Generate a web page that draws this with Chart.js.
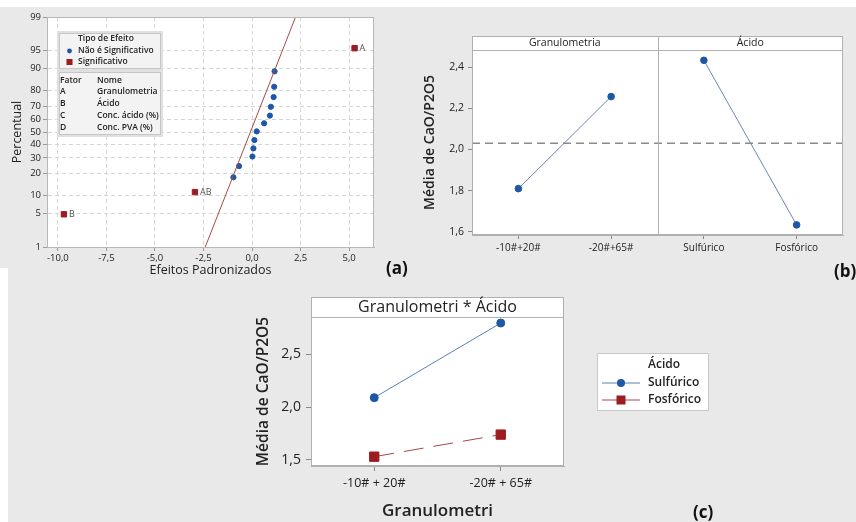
<!DOCTYPE html>
<html>
<head>
<meta charset="utf-8">
<script src="https://cdn.jsdelivr.net/npm/chart.js@4.4.1/dist/chart.umd.min.js"></script>
<style>
  html, body { margin: 0; padding: 0; }
  body { width: 856px; height: 522px; background: #e9e9e9; position: relative; overflow: hidden; font-family: 'Open Sans', sans-serif; }
  canvas { position: absolute; }
  .tag { position: absolute; font-weight: 700; font-size: 17px; color: #111; line-height: 22px; }
</style>
</head>
<body>
<div style="position:absolute;left:0;top:0;width:856px;height:7px;background:#fff"></div>
<div style="position:absolute;left:0;top:268px;width:8px;height:254px;background:#fff"></div>
<canvas id="chartA" width="385" height="285" style="left:0;top:0"></canvas>
<canvas id="chartB" width="466" height="285" style="left:390px;top:0"></canvas>
<canvas id="chartC" width="490" height="237" style="left:230px;top:285px"></canvas>
<div class="tag" style="left:386px;top:257px">(a)</div>
<div class="tag" style="left:834px;top:260px">(b)</div>
<div class="tag" style="left:693px;top:501px">(c)</div>
<script>
// (a) normal plot of standardized effects
const pctTicks = [1, 5, 10, 20, 30, 40, 50, 60, 70, 80, 90, 95, 99];
const effTicks = [-10, -7.5, -5, -2.5, 0, 2.5, 5];
const nsEffect = [-0.96, -0.67, 0.02, 0.07, 0.12, 0.24, 0.62, 0.92, 0.97, 1.11, 1.14, 1.16];
const nsPct = [18, 24.5, 31, 37, 43.5, 50.5, 57, 63, 69.5, 76, 82, 89];
const sigEffect = [-9.69, -2.94, 5.28];
const sigPct = [4.8, 11.2, 95.5];
const sigLabel = ['B', 'AB', 'A'];
const fitEffect = [-2.41, 2.24];
const fitPct = [1, 99];
const factorCodes = ['A', 'B', 'C', 'D'];
const factorNames = ['Granulometria', 'Ácido', 'Conc. ácido (%)', 'Conc. PVA (%)'];

// (b) main effects
const catB = ['-10#+20#', '-20#+65#', 'Sulfúrico', 'Fosfórico'];
const granMeans = [1.81, 2.257];
const acidMeans = [2.433, 1.634];
const grandMean = 2.03;
const yTicksB = [1.6, 1.8, 2.0, 2.2, 2.4];

// (c) interaction
const catC = ['-10# + 20#', '-20# + 65#'];
const sulfMeans = [2.089, 2.795];
const fosfMeans = [1.531, 1.74];
const yTicksC = [1.5, 2.0, 2.5];

const BLUE = '#1d57a6';
const RED = '#9c1c1f';
const FONT = "'Open Sans', sans-serif";
Chart.defaults.font.family = FONT;
Chart.defaults.animation = false;

const fmt = (v, d) => v.toFixed(d).replace('.', ',');

// inverse normal CDF (Acklam)
function probit(p) {
  const a = [-39.69683028665376, 220.9460984245205, -275.9285104469687, 138.3577518672690, -30.66479806614716, 2.506628277459239];
  const b = [-54.47609879822406, 161.5858368580409, -155.6989798598866, 66.80131188771972, -13.28068155288572];
  const c = [-0.007784894002430293, -0.3223964580411365, -2.400758277161838, -2.549732539343734, 4.374664141464968, 2.938163982698783];
  const d = [0.007784695709041462, 0.3224671290700398, 2.445134137142996, 3.754408661907416];
  const pl = 0.02425;
  let q, r;
  if (p < pl) {
    q = Math.sqrt(-2 * Math.log(p));
    return (((((c[0]*q+c[1])*q+c[2])*q+c[3])*q+c[4])*q+c[5]) / ((((d[0]*q+d[1])*q+d[2])*q+d[3])*q+1);
  }
  if (p > 1 - pl) {
    q = Math.sqrt(-2 * Math.log(1 - p));
    return -(((((c[0]*q+c[1])*q+c[2])*q+c[3])*q+c[4])*q+c[5]) / ((((d[0]*q+d[1])*q+d[2])*q+d[3])*q+1);
  }
  q = p - 0.5; r = q * q;
  return (((((a[0]*r+a[1])*r+a[2])*r+a[3])*r+a[4])*r+a[5])*q / (((((b[0]*r+b[1])*r+b[2])*r+b[3])*r+b[4])*r+1);
}

const plotBg = {
  id: 'plotBg',
  beforeDraw(chart) {
    const { ctx, chartArea: a } = chart;
    ctx.save();
    ctx.fillStyle = '#fff';
    ctx.fillRect(a.left, a.top, a.right - a.left, a.bottom - a.top);
    ctx.restore();
  }
};

// ---------- (a)
new Chart(document.getElementById('chartA'), {
  type: 'scatter',
  data: {
    datasets: [{
      type: 'line',
      data: fitEffect.map((x, i) => ({ x, y: probit(fitPct[i] / 100) })),
      borderColor: '#a84a44',
      borderWidth: 1,
      pointRadius: 0
    }, {
      label: 'Não é Significativo',
      data: nsEffect.map((x, i) => ({ x, y: probit(nsPct[i] / 100) })),
      backgroundColor: BLUE,
      borderColor: BLUE,
      pointRadius: 2.6
    }, {
      label: 'Significativo',
      data: sigEffect.map((x, i) => ({ x, y: probit(sigPct[i] / 100) })),
      pointStyle: 'rect',
      pointRadius: 3.8,
      backgroundColor: RED,
      borderColor: RED
    }]
  },
  options: {
    responsive: false,
    devicePixelRatio: 1,
    layout: { padding: { top: 17, right: 11, left: 0, bottom: 0 } },
    plugins: { legend: { display: false }, tooltip: { enabled: false } },
    scales: {
      x: {
        type: 'linear', min: -10.56, max: 6.28,
        afterBuildTicks: s => { s.ticks = effTicks.map(v => ({ value: v })); },
        afterFit: s => { s.height = 38; },
        ticks: { callback: v => fmt(v, 1), font: { size: 9.5 }, color: '#222', padding: 2, autoSkip: false, maxRotation: 0 },
        grid: { color: '#d6d6d6', tickColor: '#999', tickLength: 4 },
        border: { color: '#b8b8b8', dash: [4, 3] },
        title: { display: true, text: 'Efeitos Padronizados', font: { size: 12.5 }, color: '#222', padding: { top: 0, bottom: 7 } }
      },
      y: {
        type: 'linear', min: probit(0.01), max: probit(0.99),
        afterBuildTicks: s => { s.ticks = pctTicks.map(p => ({ value: probit(p / 100) })); },
        afterFit: s => { s.width = 47; },
        ticks: { callback: (v, i) => String(pctTicks[i]), font: { size: 9.5 }, color: '#222', padding: 2, autoSkip: false },
        grid: { color: '#d6d6d6', tickColor: '#999', tickLength: 4 },
        border: { color: '#b8b8b8', dash: [4, 3] },
        title: { display: true, text: 'Percentual', font: { size: 12.5 }, color: '#222', padding: { top: 10, bottom: 0 } }
      }
    }
  },
  plugins: [plotBg, {
    id: 'aExtras',
    afterDatasetsDraw(chart) {
      const { ctx, chartArea: a } = chart;
      ctx.save();
      ctx.strokeStyle = '#b8b8b8';
      ctx.lineWidth = 1;
      ctx.strokeRect(a.left + 0.5, a.top + 0.5, a.right - a.left - 1, a.bottom - a.top);
      // effect labels
      const meta = chart.getDatasetMeta(2);
      ctx.fillStyle = '#555';
      ctx.font = '9px ' + FONT;
      ctx.textBaseline = 'middle';
      meta.data.forEach((pt, i) => ctx.fillText(sigLabel[i], pt.x + 5, pt.y));
      // legend box
      const L = a.left + 10, T = a.top + 14;
      ctx.fillStyle = '#e0e0e0';
      ctx.fillRect(L, T, 106, 106);
      ctx.fillStyle = '#f3f3f3';
      ctx.strokeStyle = '#c6c6c6';
      ctx.fillRect(L + 2, T + 2, 102, 36);
      ctx.strokeRect(L + 2.5, T + 2.5, 101, 35);
      ctx.fillRect(L + 2, T + 41, 102, 63);
      ctx.strokeRect(L + 2.5, T + 41.5, 101, 62);
      ctx.fillStyle = '#222';
      ctx.font = '600 8.5px ' + FONT;
      ctx.fillText('Tipo de Efeito', L + 21, T + 8);
      ctx.fillText('Não é Significativo', L + 21, T + 20);
      ctx.fillText('Significativo', L + 21, T + 31);
      ctx.fillStyle = BLUE;
      ctx.beginPath(); ctx.arc(L + 12.5, T + 20, 2.4, 0, Math.PI * 2); ctx.fill();
      ctx.fillStyle = RED;
      ctx.fillRect(L + 9.5, T + 28, 6, 6);
      ctx.fillStyle = '#222';
      ctx.fillText('Fator', L + 3, T + 50);
      ctx.fillText('Nome', L + 40, T + 50);
      factorCodes.forEach((c, i) => {
        const y = T + 61 + i * 11.7;
        ctx.fillText(c, L + 3, y);
        ctx.fillText(factorNames[i], L + 40, y);
      });
      ctx.restore();
    }
  }]
});

// ---------- (b)
new Chart(document.getElementById('chartB'), {
  type: 'line',
  data: {
    labels: catB,
    datasets: [{
      label: 'Granulometria',
      data: [granMeans[0], granMeans[1], null, null]
    }, {
      label: 'Ácido',
      data: [null, null, acidMeans[0], acidMeans[1]]
    }].map(ds => Object.assign(ds, {
      borderColor: '#6f86b3', borderWidth: 1,
      pointRadius: 3.3, pointBackgroundColor: BLUE, pointBorderColor: BLUE
    }))
  },
  options: {
    responsive: false,
    devicePixelRatio: 1,
    layout: { padding: { top: 50, right: 13, left: 0, bottom: 0 } },
    plugins: { legend: { display: false }, tooltip: { enabled: false } },
    scales: {
      x: {
        type: 'category', offset: true,
        afterFit: s => { s.height = 50; },
        ticks: { font: { size: 10 }, color: '#222', padding: 3, maxRotation: 0, autoSkip: false },
        grid: { drawOnChartArea: false, tickColor: '#888', tickLength: 4 },
        border: { color: '#b0b0b0' }
      },
      y: {
        min: 1.585, max: 2.483,
        afterBuildTicks: s => { s.ticks = yTicksB.map(v => ({ value: v })); },
        afterFit: s => { s.width = 82; },
        ticks: { callback: v => fmt(v, 1), font: { size: 10.5 }, color: '#222', padding: 4 },
        grid: { drawOnChartArea: false, tickColor: '#888', tickLength: 4 },
        border: { color: '#b0b0b0' },
        title: { display: true, text: 'Média de CaO/P2O5', font: { size: 14, weight: '600' }, color: '#222', padding: { top: 32, bottom: 0 } }
      }
    }
  },
  plugins: [plotBg, {
    id: 'bExtras',
    beforeDatasetsDraw(chart) {
      const { ctx, chartArea: a, scales } = chart;
      const y = scales.y.getPixelForValue(grandMean);
      ctx.save();
      ctx.strokeStyle = '#8a8a8a';
      ctx.lineWidth = 1.5;
      ctx.setLineDash([8, 5]);
      ctx.beginPath(); ctx.moveTo(a.left, y); ctx.lineTo(a.right, y); ctx.stroke();
      ctx.restore();
    },
    afterDraw(chart) {
      const { ctx, chartArea: a } = chart;
      const mid = (a.left + a.right) / 2;
      ctx.save();
      ctx.fillStyle = '#fff';
      ctx.fillRect(a.left, a.top - 14, a.right - a.left, 14);
      ctx.strokeStyle = '#b0b0b0';
      ctx.lineWidth = 1;
      ctx.strokeRect(a.left + 0.5, a.top - 13.5, a.right - a.left - 1, a.bottom - a.top + 13);
      ctx.beginPath();
      ctx.moveTo(a.left, a.top + 0.5); ctx.lineTo(a.right, a.top + 0.5);
      ctx.moveTo(Math.round(mid) + 0.5, a.top - 14); ctx.lineTo(Math.round(mid) + 0.5, a.bottom);
      ctx.stroke();
      ctx.fillStyle = '#222';
      ctx.font = '10.5px ' + FONT;
      ctx.textAlign = 'center';
      ctx.textBaseline = 'middle';
      ctx.fillText('Granulometria', (a.left + mid) / 2, a.top - 7);
      ctx.fillText('Ácido', (mid + a.right) / 2, a.top - 7);
      ctx.restore();
    }
  }]
});

// ---------- (c)
new Chart(document.getElementById('chartC'), {
  type: 'line',
  data: {
    labels: catC,
    datasets: [{
      label: 'Sulfúrico',
      data: sulfMeans,
      borderColor: '#5b7fb8', borderWidth: 1,
      pointRadius: 4, pointBackgroundColor: BLUE, pointBorderColor: BLUE
    }, {
      label: 'Fosfórico',
      data: fosfMeans,
      borderColor: '#a8474a', borderWidth: 1, borderDash: [20, 10],
      pointStyle: 'rect', pointRadius: 6.6, pointBackgroundColor: RED, pointBorderColor: RED
    }]
  },
  options: {
    responsive: false,
    devicePixelRatio: 1,
    layout: { padding: { top: 32, right: 156, left: 0, bottom: 0 } },
    plugins: { legend: { display: false }, tooltip: { enabled: false } },
    scales: {
      x: {
        type: 'category', offset: true,
        afterFit: s => { s.height = 56; },
        ticks: { font: { size: 12.5 }, color: '#222', padding: 5, maxRotation: 0, autoSkip: false },
        grid: { drawOnChartArea: false, tickColor: '#888', tickLength: 5 },
        border: { color: '#b0b0b0' },
        title: { display: true, text: 'Granulometri', font: { size: 17, weight: '600' }, color: '#222', padding: { top: 0, bottom: 1 } }
      },
      y: {
        min: 1.443, max: 2.852,
        afterBuildTicks: s => { s.ticks = yTicksC.map(v => ({ value: v })); },
        afterFit: s => { s.width = 81; },
        ticks: { callback: v => fmt(v, 1), font: { size: 14 }, color: '#222', padding: 5 },
        grid: { drawOnChartArea: false, tickColor: '#888', tickLength: 5 },
        border: { color: '#b0b0b0' },
        title: { display: true, text: 'Média de CaO/P2O5', font: { size: 15.5, weight: '600' }, color: '#222', padding: { top: 24, bottom: 0 } }
      }
    }
  },
  plugins: [plotBg, {
    id: 'cExtras',
    afterDraw(chart) {
      const { ctx, chartArea: a } = chart;
      ctx.save();
      ctx.fillStyle = '#fff';
      ctx.fillRect(a.left, a.top - 20, a.right - a.left, 20);
      ctx.strokeStyle = '#b0b0b0';
      ctx.lineWidth = 1;
      ctx.strokeRect(a.left + 0.5, a.top - 19.5, a.right - a.left - 1, a.bottom - a.top + 19);
      ctx.beginPath(); ctx.moveTo(a.left, a.top + 0.5); ctx.lineTo(a.right, a.top + 0.5); ctx.stroke();
      ctx.fillStyle = '#222';
      ctx.font = '16px ' + FONT;
      ctx.textAlign = 'center';
      ctx.textBaseline = 'middle';
      ctx.fillText('Granulometri * Ácido', (a.left + a.right) / 2, a.top - 10);
      // legend
      const L = 367, T = 68;
      ctx.fillStyle = '#fff';
      ctx.fillRect(L, T, 112, 58);
      ctx.strokeStyle = '#c8c8c8';
      ctx.strokeRect(L + 0.5, T + 0.5, 111, 57);
      ctx.textAlign = 'left';
      ctx.fillStyle = '#222';
      ctx.font = '600 12px ' + FONT;
      ctx.fillText('Ácido', L + 51, T + 12);
      chart.data.datasets.forEach((ds, i) => {
        const y = T + 30 + i * 17;
        ctx.strokeStyle = ds.borderColor;
        ctx.lineWidth = 1;
        ctx.setLineDash([]);
        ctx.beginPath(); ctx.moveTo(L + 5, y); ctx.lineTo(L + 43, y); ctx.stroke();
        ctx.fillStyle = ds.pointBackgroundColor;
        if (ds.pointStyle === 'rect') {
          ctx.fillRect(L + 19.5, y - 4.5, 9, 9);
        } else {
          ctx.beginPath(); ctx.arc(L + 24, y, 4, 0, Math.PI * 2); ctx.fill();
        }
        ctx.fillStyle = '#222';
        ctx.fillText(ds.label, L + 51, y);
      });
      ctx.restore();
    }
  }]
});
</script>
</body>
</html>
